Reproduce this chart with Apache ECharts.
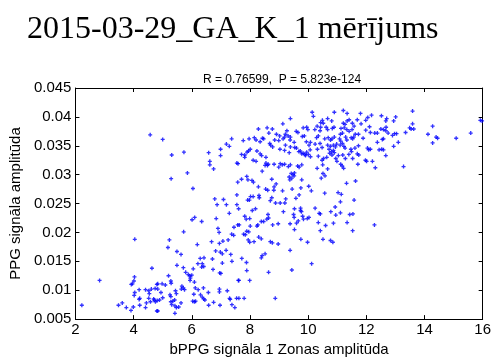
<!DOCTYPE html>
<html>
<head>
<meta charset="utf-8">
<script src="https://cdn.jsdelivr.net/npm/echarts@6/dist/echarts.min.js"></script>
<style>
  html, body { margin: 0; padding: 0; background: #fff; }
  #chart { width: 494px; height: 362px; }
</style>
</head>
<body>
<div id="chart"></div>
<script>
// 标题与坐标
var mainTitle = "2015-03-29_GA_K_1 mērījums";
var subTitle = "R = 0.76599,  P = 5.823e-124";
var xName = "bPPG signāla 1 Zonas amplitūda";
var yName = "PPG signāla amplitūda";

// 点数据, 按x区间分组 [x, y]
var pointsX2to5 = [
  [4.57,0.0369],[4.04,0.0188],[4.63,0.0138],[2.83,0.0117],[4.03,0.0123],[4.01,0.0116],[3.96,0.0111],[3.92,0.0110],
  [4.19,0.0101],[4.04,0.0096],[4.02,0.0091],[4.21,0.0086],[4.19,0.0084],[4.41,0.0101],[4.52,0.0099],[4.61,0.0102],
  [4.74,0.0103],[4.80,0.0110],[4.54,0.0094],[4.52,0.0086],[4.69,0.0085],[4.71,0.0083],[4.75,0.0080],[2.22,0.0074],
  [3.48,0.0074],[3.61,0.0078],[3.75,0.0070],[3.91,0.0065],[3.99,0.0071],[4.21,0.0074],[4.41,0.0070],[4.44,0.0078],
  [4.58,0.0080],[4.80,0.0064]
];
var pointsX5to8 = [
  [5.00,0.0361],[5.31,0.0334],[5.73,0.0339],[6.58,0.0338],[6.99,0.0344],[6.99,0.0333],[7.19,0.0353],[7.29,0.0349],
  [7.37,0.0362],[7.55,0.0320],[6.62,0.0323],[6.62,0.0317],[6.75,0.0310],[5.85,0.0303],[5.29,0.0293],[7.58,0.0287],
  [6.04,0.0276],[6.79,0.0258],[6.87,0.0248],[7.09,0.0257],[7.19,0.0248],[7.55,0.0265],[7.55,0.0248],[7.29,0.0233],
  [6.10,0.0226],[6.01,0.0222],[6.34,0.0219],[6.84,0.0224],[6.90,0.0207],[6.94,0.0200],[7.45,0.0209],[7.58,0.0213],
  [7.37,0.0197],[7.44,0.0195],[5.72,0.0201],[5.23,0.0187],[5.18,0.0174],[6.19,0.0179],[6.68,0.0184],[6.95,0.0181],
  [7.07,0.0185],[7.25,0.0187],[5.49,0.0167],[5.63,0.0162],[6.82,0.0168],[6.98,0.0166],[7.05,0.0163],[7.18,0.0169],
  [7.34,0.0162],[6.42,0.0156],[6.29,0.0155],[6.71,0.0154],[6.21,0.0146],[6.36,0.0146],[6.41,0.0141],[6.34,0.0140],
  [7.05,0.0147],[7.38,0.0150],[5.49,0.0143],[5.71,0.0139],[6.05,0.0137],[6.73,0.0136],[5.79,0.0131],[5.88,0.0127],
  [5.93,0.0125],[6.00,0.0126],[6.96,0.0130],[7.00,0.0129],[5.20,0.0125],[5.95,0.0121],[5.94,0.0117],[7.60,0.0117],
  [6.09,0.0114],[5.28,0.0116],[5.29,0.0112],[4.98,0.0111],[5.09,0.0109],[4.83,0.0111],[5.66,0.0107],[5.71,0.0104],
  [5.64,0.0102],[5.75,0.0101],[4.94,0.0096],[4.83,0.0102],[6.12,0.0104],[6.22,0.0101],[6.40,0.0104],[6.57,0.0096],
  [6.95,0.0102],[6.95,0.0097],[7.22,0.0099],[6.07,0.0093],[6.30,0.0092],[6.36,0.0088],[6.41,0.0085],[6.45,0.0083],
  [6.03,0.0081],[6.09,0.0080],[6.13,0.0081],[5.44,0.0099],[5.47,0.0094],[5.25,0.0092],[5.28,0.0089],[5.00,0.0087],
  [4.89,0.0083],[4.81,0.0082],[5.28,0.0080],[5.35,0.0081],[5.41,0.0083],[5.31,0.0075],[5.42,0.0073],[5.47,0.0070],
  [5.55,0.0071],[5.63,0.0078],[5.42,0.0060],[4.83,0.0064],[6.58,0.0074],[6.75,0.0079],[6.97,0.0074],[7.30,0.0086],
  [7.32,0.0084],[7.38,0.0075],[7.48,0.0070],[7.54,0.0086]
];
var pointsX8to10 = [
  [10.14,0.0408],[10.18,0.0401],[9.39,0.0397],[9.13,0.0388],[8.29,0.0379],[8.59,0.0381],[8.77,0.0379],[8.65,0.0372],
  [9.27,0.0376],[9.59,0.0375],[9.65,0.0373],[9.83,0.0381],[9.95,0.0382],[9.99,0.0378],[10.23,0.0378],[10.31,0.0384],
  [10.35,0.0367],[9.22,0.0370],[9.19,0.0365],[9.31,0.0367],[9.14,0.0362],[8.91,0.0370],[9.02,0.0367],[8.99,0.0359],
  [8.85,0.0360],[9.52,0.0356],[9.54,0.0347],[9.39,0.0365],[9.38,0.0360],[9.87,0.0367],[9.80,0.0366],[9.94,0.0357],
  [10.08,0.0356],[10.29,0.0364],[10.24,0.0353],[10.03,0.0351],[10.07,0.0343],[8.43,0.0363],[8.47,0.0362],[8.15,0.0364],
  [8.21,0.0360],[7.97,0.0362],[7.77,0.0359],[8.35,0.0357],[8.71,0.0351],[8.78,0.0348],[8.68,0.0354],[9.03,0.0344],
  [9.22,0.0351],[9.19,0.0342],[9.39,0.0348],[9.35,0.0338],[9.60,0.0346],[9.68,0.0340],[9.73,0.0341],[9.78,0.0336],
  [9.83,0.0337],[9.89,0.0335],[9.95,0.0339],[9.91,0.0333],[10.01,0.0335],[10.08,0.0331],[10.32,0.0344],[10.35,0.0332],
  [8.01,0.0344],[7.95,0.0341],[7.90,0.0339],[7.71,0.0335],[7.82,0.0334],[7.82,0.0330],[8.24,0.0341],[8.35,0.0336],
  [8.40,0.0333],[8.11,0.0325],[8.55,0.0330],[8.21,0.0323],[8.55,0.0320],[8.60,0.0316],[8.52,0.0316],[8.63,0.0318],
  [8.83,0.0318],[9.04,0.0319],[9.11,0.0317],[9.19,0.0318],[9.32,0.0314],[9.39,0.0317],[8.99,0.0313],[9.64,0.0315],
  [9.69,0.0313],[9.78,0.0317],[10.31,0.0311],[9.53,0.0303],[9.52,0.0298],[9.42,0.0302],[9.35,0.0296],[9.44,0.0294],
  [9.37,0.0291],[9.48,0.0300],[9.78,0.0291],[7.59,0.0319],[7.89,0.0297],[7.93,0.0291],[7.71,0.0292],[8.07,0.0290],
  [8.12,0.0287],[8.42,0.0306],[8.75,0.0292],[8.29,0.0279],[8.54,0.0275],[8.61,0.0273],[8.83,0.0279],[8.90,0.0284],
  [8.82,0.0273],[9.12,0.0272],[9.45,0.0275],[9.75,0.0277],[10.11,0.0272],[10.02,0.0280],[9.69,0.0265],[9.58,0.0259],
  [8.75,0.0260],[8.70,0.0255],[8.88,0.0251],[9.04,0.0251],[9.23,0.0258],[9.20,0.0251],[8.02,0.0262],[8.11,0.0262],
  [7.98,0.0256],[8.31,0.0264],[8.32,0.0260],[7.92,0.0256],[7.61,0.0241],[8.08,0.0238],[8.19,0.0241],[9.15,0.0236],
  [9.53,0.0241],[9.74,0.0242],[9.74,0.0238],[9.77,0.0236],[10.24,0.0242],[10.38,0.0233],[7.82,0.0228],[7.87,0.0223],
  [7.99,0.0224],[8.62,0.0231],[8.64,0.0225],[8.58,0.0223],[8.39,0.0219],[8.47,0.0219],[8.27,0.0213],[8.24,0.0211],
  [8.01,0.0211],[7.63,0.0213],[8.78,0.0213],[8.97,0.0215],[9.50,0.0231],[9.52,0.0226],[9.81,0.0228],[9.84,0.0223],
  [9.97,0.0224],[9.66,0.0220],[9.60,0.0216],[9.38,0.0215],[10.03,0.0226],[10.35,0.0217],[9.53,0.0205],[7.89,0.0202],
  [7.84,0.0196],[7.78,0.0197],[7.96,0.0201],[7.94,0.0187],[7.99,0.0183],[8.14,0.0184],[8.30,0.0192],[8.39,0.0189],
  [8.70,0.0184],[8.77,0.0182],[8.97,0.0180],[9.75,0.0188],[9.98,0.0183],[9.38,0.0169],[8.52,0.0163],[8.42,0.0160],
  [8.39,0.0156],[7.72,0.0155],[7.88,0.0148],[10.12,0.0146],[7.89,0.0134],[8.64,0.0131],[9.44,0.0135],[7.62,0.0117],
  [7.99,0.0117],[7.62,0.0086],[7.80,0.0086],[8.87,0.0086]
];
var pointsX10to13 = [
  [10.90,0.0408],[11.21,0.0411],[11.34,0.0406],[11.80,0.0406],[12.18,0.0403],[12.05,0.0399],[12.52,0.0402],[12.70,0.0397],
  [12.67,0.0393],[13.01,0.0400],[12.94,0.0393],[10.49,0.0394],[10.43,0.0390],[10.52,0.0389],[10.67,0.0397],[10.81,0.0393],
  [11.21,0.0389],[11.27,0.0387],[11.34,0.0393],[11.41,0.0395],[11.52,0.0389],[11.58,0.0384],[11.69,0.0395],[11.82,0.0388],
  [11.98,0.0394],[12.11,0.0383],[11.98,0.0377],[10.62,0.0382],[10.67,0.0378],[10.43,0.0382],[10.41,0.0376],[10.83,0.0380],
  [10.89,0.0382],[11.13,0.0380],[11.24,0.0381],[11.33,0.0378],[11.41,0.0375],[11.51,0.0378],[11.18,0.0372],[11.11,0.0370],
  [11.57,0.0365],[11.62,0.0370],[11.53,0.0362],[11.73,0.0370],[11.89,0.0363],[12.14,0.0373],[12.29,0.0372],[12.38,0.0372],
  [12.50,0.0379],[12.59,0.0378],[12.68,0.0382],[12.67,0.0376],[12.75,0.0372],[12.90,0.0368],[12.97,0.0371],[13.04,0.0371],
  [12.59,0.0362],[12.55,0.0361],[12.38,0.0356],[13.10,0.0356],[12.94,0.0349],[12.04,0.0346],[12.08,0.0343],[12.14,0.0344],
  [12.44,0.0343],[12.53,0.0344],[12.59,0.0343],[12.67,0.0333],[10.69,0.0364],[10.82,0.0362],[10.90,0.0365],[10.77,0.0360],
  [10.57,0.0362],[11.08,0.0362],[11.12,0.0358],[11.29,0.0365],[11.33,0.0360],[11.48,0.0364],[10.41,0.0354],[10.48,0.0347],
  [10.67,0.0351],[10.77,0.0349],[10.72,0.0344],[10.87,0.0351],[10.94,0.0348],[10.98,0.0353],[11.10,0.0351],[11.18,0.0354],
  [11.27,0.0346],[11.23,0.0349],[11.47,0.0344],[11.49,0.0340],[11.61,0.0346],[11.73,0.0350],[10.80,0.0340],[10.87,0.0342],
  [10.74,0.0337],[10.82,0.0334],[10.90,0.0338],[10.95,0.0328],[10.99,0.0323],[11.04,0.0333],[11.19,0.0334],[11.28,0.0328],
  [11.40,0.0335],[11.53,0.0328],[11.69,0.0336],[11.74,0.0334],[10.53,0.0328],[10.48,0.0325],[10.64,0.0330],[11.97,0.0325],
  [12.01,0.0323],[12.21,0.0323],[12.31,0.0312],[11.71,0.0318],[11.12,0.0318],[11.17,0.0315],[11.22,0.0311],[10.50,0.0317],
  [10.67,0.0310],[10.51,0.0302],[10.58,0.0298],[10.45,0.0294],[11.32,0.0285],[11.63,0.0289],[10.57,0.0268],[11.03,0.0269],
  [11.14,0.0266],[11.11,0.0253],[11.58,0.0256],[10.93,0.0244],[10.78,0.0236],[10.95,0.0230],[11.11,0.0234],[11.43,0.0231],
  [11.54,0.0232],[10.42,0.0232],[10.60,0.0212],[10.87,0.0216],[11.34,0.0217],[12.28,0.0213],[10.42,0.0203],[11.53,0.0203],
  [10.51,0.0188],[10.77,0.0186],[10.85,0.0183]
];
var pointsX13to16 = [
  [13.59,0.0410],[13.59,0.0388],[13.49,0.0381],[13.54,0.0379],[13.63,0.0379],[13.35,0.0373],[14.28,0.0384],[14.12,0.0370],
  [14.40,0.0365],[14.45,0.0363],[14.28,0.0355],[15.09,0.0363],[15.59,0.0372],[15.92,0.0394],[15.98,0.0393],[13.28,0.0314]
];

var allPoints = [].concat(pointsX2to5, pointsX5to8, pointsX8to10, pointsX10to13, pointsX13to16);

var chart = echarts.init(document.getElementById("chart"), null, { renderer: "canvas" });
var sans = "'Liberation Sans', Arial, sans-serif";
var axisLineStyle = { color: "#000", width: 1 };

var option = {
  animation: false,
  backgroundColor: "#fff",
  title: [
    {
      text: mainTitle,
      left: 22,
      top: 9,
      textStyle: { fontFamily: "'Liberation Serif', 'Times New Roman', serif", fontSize: 32, fontWeight: "normal", color: "#000" }
    },
    {
      text: subTitle,
      left: 277,
      top: 69,
      textAlign: "center",
      textStyle: { fontFamily: sans, fontSize: 12, fontWeight: "normal", color: "#000" }
    }
  ],
  grid: { left: 67, right: 7, top: 88, bottom: 32, containLabel: false },
  xAxis: [
    {
      type: "value",
      min: 2, max: 16, interval: 2,
      name: xName,
      nameLocation: "middle",
      nameGap: 17,
      nameTextStyle: { fontFamily: sans, fontSize: 15, color: "#000" },
      axisLine: { lineStyle: axisLineStyle },
      axisTick: { inside: true, length: 4, lineStyle: axisLineStyle },
      axisLabel: { fontFamily: sans, fontSize: 15, color: "#000", margin: 3 },
      splitLine: { show: false }
    },
    {
      type: "value",
      position: "top",
      min: 2, max: 16, interval: 2,
      axisLine: { lineStyle: axisLineStyle },
      axisTick: { inside: true, length: 4, lineStyle: axisLineStyle },
      axisLabel: { show: false },
      splitLine: { show: false }
    }
  ],
  yAxis: [
    {
      type: "value",
      min: 0.005, max: 0.045, interval: 0.005,
      name: yName,
      nameLocation: "middle",
      nameGap: 49,
      nameTextStyle: { fontFamily: sans, fontSize: 15, color: "#000" },
      axisLine: { lineStyle: axisLineStyle },
      axisTick: { inside: true, length: 4, lineStyle: axisLineStyle },
      axisLabel: {
        fontFamily: sans, fontSize: 15, color: "#000", margin: 4,
        formatter: function (v) { return String(+v.toFixed(3)); }
      },
      splitLine: { show: false }
    },
    {
      type: "value",
      position: "right",
      min: 0.005, max: 0.045, interval: 0.005,
      axisLine: { lineStyle: axisLineStyle },
      axisTick: { inside: true, length: 4, lineStyle: axisLineStyle },
      axisLabel: { show: false },
      splitLine: { show: false }
    }
  ],
  series: [
    {
      type: "scatter",
      xAxisIndex: 0,
      yAxisIndex: 0,
      symbol: "path://M1,0H2V1H3V2H2V3H1V2H0V1H1Z",
      symbolSize: 4,
      itemStyle: { color: "#0000ff" },
      data: allPoints
    }
  ]
};
chart.setOption(option);
</script>
</body>
</html>
